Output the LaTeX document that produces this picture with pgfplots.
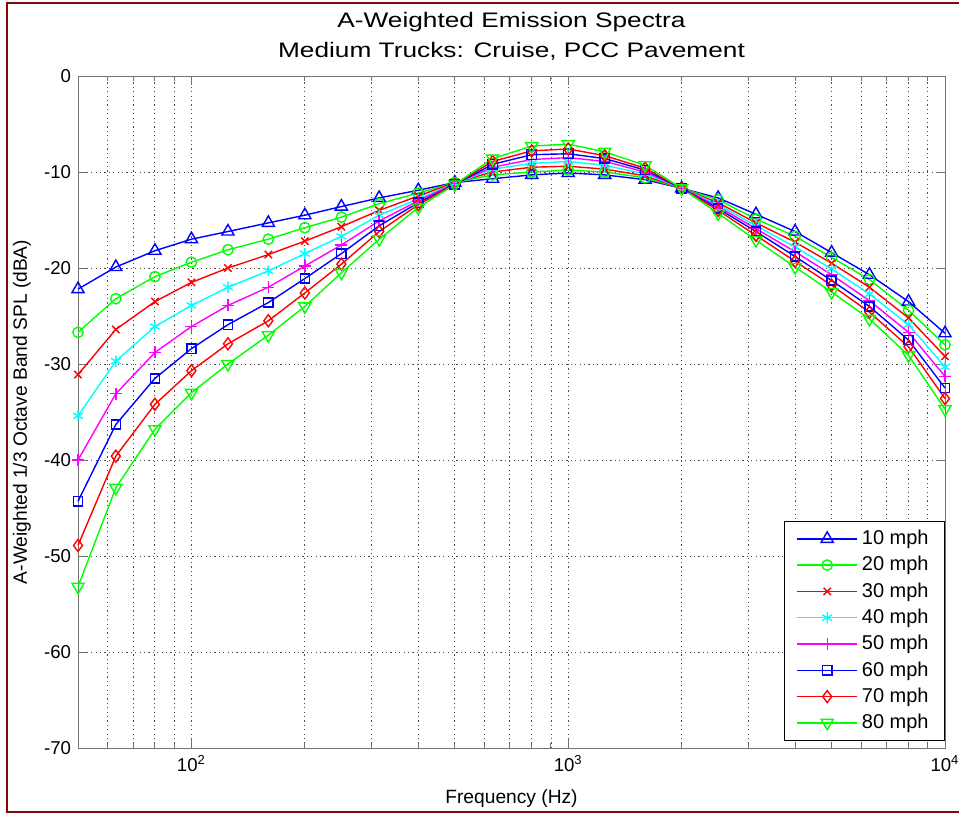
\documentclass[border=0pt]{standalone}
\usepackage{fontspec}
\setmainfont{Liberation Sans}
\newfontfamily\titlefont[FakeStretch=1.25]{Liberation Sans}
\usepackage{pgfplots}
\usepackage{pgfplotstable}
\pgfplotsset{compat=1.18}
\definecolor{mblue}{RGB}{0,0,255}
\definecolor{mgreen}{RGB}{0,255,0}
\definecolor{mred}{RGB}{255,0,0}
\definecolor{mcyan}{RGB}{0,255,255}
\definecolor{mmag}{RGB}{255,0,255}
\definecolor{maroonb}{RGB}{128,10,10}

\pgfplotstableread{
f     s10    s20    s30    s40    s50    s60    s70    s80
50    -22.2  -26.7  -31.1  -35.4  -40.0  -44.3  -48.9  -53.2
63    -19.9  -23.2  -26.4  -29.7  -33.1  -36.3  -39.6  -42.9
80    -18.2  -20.9  -23.5  -26.1  -28.8  -31.5  -34.2  -36.8
100   -17.0  -19.4  -21.5  -23.9  -26.1  -28.4  -30.7  -33.0
125   -16.2  -18.1  -20.0  -22.0  -23.9  -25.9  -27.9  -30.0
160   -15.3  -17.0  -18.6  -20.3  -22.0  -23.6  -25.5  -27.0
200   -14.5  -15.8  -17.2  -18.5  -19.8  -21.1  -22.6  -24.0
250   -13.6  -14.7  -15.7  -16.7  -17.6  -18.5  -19.6  -20.5
315   -12.7  -13.3  -14.0  -14.5  -15.1  -15.6  -16.2  -17.0
400   -11.9  -12.2  -12.5  -12.8  -13.0  -13.2  -13.4  -13.7
500   -11.1  -11.1  -11.1  -11.2  -11.2  -11.3  -11.3  -11.3
630   -10.7  -10.3  -10.0  -9.7   -9.5   -9.2   -8.9   -8.6
800   -10.3  -10.0  -9.5   -9.1   -8.7   -8.2   -7.8   -7.3
1000  -10.1  -9.8   -9.4   -8.9   -8.5   -8.1   -7.6   -7.1
1250  -10.3  -10.0  -9.7   -9.3   -8.9   -8.6   -8.3   -7.9
1600  -10.8  -10.6  -10.4  -10.2  -10.0  -9.8   -9.6   -9.3
2000  -11.7  -11.7  -11.7  -11.7  -11.7  -11.7  -11.7  -11.7
2500  -12.7  -12.9  -13.2  -13.4  -13.6  -13.8  -14.0  -14.3
3150  -14.4  -14.9  -15.3  -15.6  -15.9  -16.2  -16.6  -17.1
4000  -16.2  -16.7  -17.3  -17.8  -18.3  -18.8  -19.3  -19.9
5000  -18.4  -18.9  -19.5  -20.1  -20.7  -21.3  -21.8  -22.5
6300  -20.7  -21.2  -22.0  -22.7  -23.4  -24.0  -24.6  -25.3
8000  -23.5  -24.4  -25.2  -25.9  -26.7  -27.5  -28.2  -29.1
10000 -26.8  -28.0  -29.2  -30.3  -31.3  -32.5  -33.6  -34.7
}\spectra

\begin{document}
\begin{tikzpicture}
\useasboundingbox (-39pt,-33.5pt) rectangle (440.5pt,374pt);
\draw[maroonb, line width=1pt] (445pt,372.5pt) -- (-35.5pt,372.5pt) -- (-35.5pt,-32pt) -- (445pt,-32pt);
\begin{axis}[
  at={(0,0)}, anchor=south west,
  scale only axis, width=433.5pt, height=336pt,
  xmode=log, xmin=50, xmax=10000, ymin=-70, ymax=0,
  xtick={100,1000,10000},
  xticklabels={10\textsuperscript{2},10\textsuperscript{3},10\textsuperscript{4}},
  minor xtick={60,70,80,90,200,300,400,500,600,700,800,900,2000,3000,4000,5000,6000,7000,8000,9000},
  ytick={-70,-60,-50,-40,-30,-20,-10,0},
  grid=both,
  major grid style={black!70, dash pattern=on 0.6pt off 1.6pt, line width=0.45pt},
  minor grid style={black!70, dash pattern=on 0.6pt off 1.6pt, line width=0.45pt},
  tick align=inside, major tick length=4.3pt, minor tick length=2.5pt,
  axis line style={black!55, line width=0.5pt},
  every tick/.style={black!55, line width=0.5pt},
  ticklabel style={font=\fontsize{9.3}{10}\selectfont},
  /pgf/number format/assume math mode=true,
  xlabel={Frequency (Hz)},
  ylabel={A-Weighted 1/3 Octave Band SPL (dBA)},
  label style={font=\fontsize{9.6}{11}\selectfont},
  xlabel style={at={(axis description cs:0.5,-0.0833)}, anchor=base},
  ylabel style={at={(axis description cs:-0.0646,0.5)}, anchor=center},
  clip=false,
  legend style={at={(axis description cs:1,0)}, anchor=south east, yshift=3.5pt,
    draw=black, font=\fontsize{10}{10}\selectfont, row sep=0.4pt,
    inner xsep=6pt, inner ysep=2.5pt, cells={anchor=west}},
  legend cell align=left,
  legend image code/.code={\draw[mark repeat=2, mark phase=2] plot coordinates {(0pt,0pt) (15pt,0pt) (30pt,0pt)};},
  every axis plot/.append style={line width=0.7pt},
]
\addplot[color=mblue, mark=triangle, mark size=3.5pt, mark options={solid}] table[x=f,y=s10] {\spectra};
\addlegendentry{10 mph}
\addplot[color=mgreen, mark=o, mark size=2.6pt, mark options={solid}] table[x=f,y=s20] {\spectra};
\addlegendentry{20 mph}
\addplot[color=mred, mark=x, mark size=2.6pt, mark options={solid}] table[x=f,y=s30] {\spectra};
\addlegendentry{30 mph}
\addplot[color=mcyan, mark=asterisk, mark size=2.8pt, mark options={solid}] table[x=f,y=s40] {\spectra};
\addlegendentry{40 mph}
\addplot[color=mmag, mark=+, mark size=3pt, mark options={solid}] table[x=f,y=s50] {\spectra};
\addlegendentry{50 mph}
\addplot[color=mblue, mark=square, mark size=2.3pt, mark options={solid}] table[x=f,y=s60] {\spectra};
\addlegendentry{60 mph}
\addplot[color=mred, mark=diamond, mark size=3pt, mark options={solid}] table[x=f,y=s70] {\spectra};
\addlegendentry{70 mph}
\addplot[color=mgreen, mark=triangle, mark size=3.5pt, mark options={solid, rotate=180}] table[x=f,y=s80] {\spectra};
\addlegendentry{80 mph}
\end{axis}
\node[anchor=base, font=\titlefont\fontsize{10.5}{12}\selectfont] at ([yshift=24.5pt]current axis.north) {A-Weighted Emission Spectra};
\node[anchor=base, font=\titlefont\fontsize{10.5}{12}\selectfont] at ([yshift=9.5pt]current axis.north) {Medium Trucks: Cruise, PCC Pavement};
\end{tikzpicture}
\end{document}
